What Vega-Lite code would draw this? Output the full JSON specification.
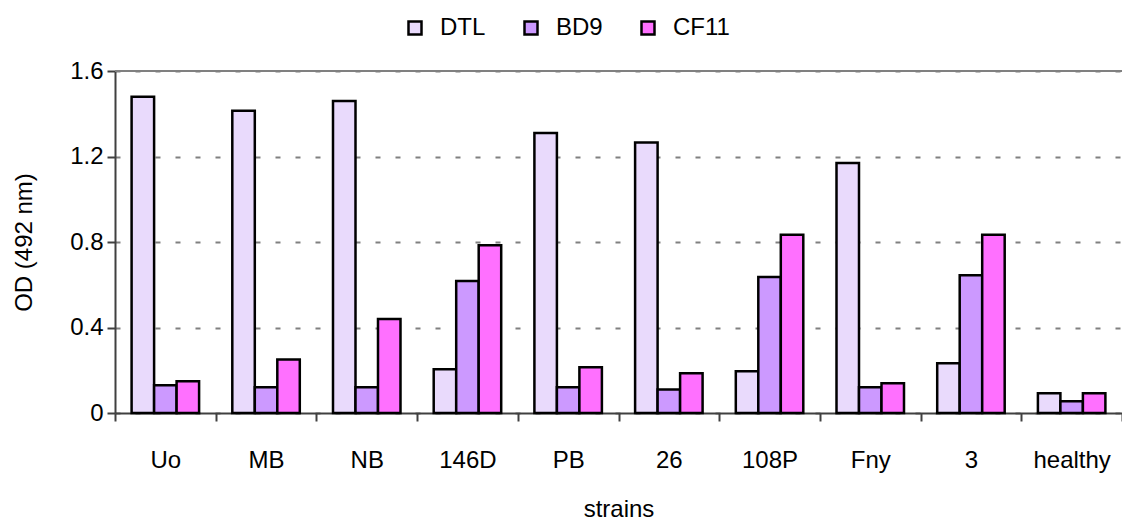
{
  "$schema": "https://vega.github.io/schema/vega-lite/v6.json",
  "width": 1007,
  "height": 342,
  "autosize": {"type": "none"},
  "padding": {"left": 115, "top": 71, "right": 0, "bottom": 110},
  "background": "white",
  "config": {
    "view": {"stroke": null},
    "font": "Liberation Sans",
    "axis": {"labelFont": "Liberation Sans", "titleFont": "Liberation Sans"},
    "legend": {"labelFont": "Liberation Sans"}
  },
  "data": {
    "values": [
      {"strain": "Uo", "series": "DTL", "od": 1.48},
      {"strain": "Uo", "series": "BD9", "od": 0.13},
      {"strain": "Uo", "series": "CF11", "od": 0.148},
      {"strain": "MB", "series": "DTL", "od": 1.414},
      {"strain": "MB", "series": "BD9", "od": 0.12},
      {"strain": "MB", "series": "CF11", "od": 0.25},
      {"strain": "NB", "series": "DTL", "od": 1.46},
      {"strain": "NB", "series": "BD9", "od": 0.12},
      {"strain": "NB", "series": "CF11", "od": 0.44},
      {"strain": "146D", "series": "DTL", "od": 0.205},
      {"strain": "146D", "series": "BD9", "od": 0.618},
      {"strain": "146D", "series": "CF11", "od": 0.785},
      {"strain": "PB", "series": "DTL", "od": 1.31},
      {"strain": "PB", "series": "BD9", "od": 0.12},
      {"strain": "PB", "series": "CF11", "od": 0.214},
      {"strain": "26", "series": "DTL", "od": 1.265},
      {"strain": "26", "series": "BD9", "od": 0.11},
      {"strain": "26", "series": "CF11", "od": 0.186},
      {"strain": "108P", "series": "DTL", "od": 0.195},
      {"strain": "108P", "series": "BD9", "od": 0.636},
      {"strain": "108P", "series": "CF11", "od": 0.834},
      {"strain": "Fny", "series": "DTL", "od": 1.17},
      {"strain": "Fny", "series": "BD9", "od": 0.12},
      {"strain": "Fny", "series": "CF11", "od": 0.139},
      {"strain": "3", "series": "DTL", "od": 0.233},
      {"strain": "3", "series": "BD9", "od": 0.645},
      {"strain": "3", "series": "CF11", "od": 0.834},
      {"strain": "healthy", "series": "DTL", "od": 0.092},
      {"strain": "healthy", "series": "BD9", "od": 0.055},
      {"strain": "healthy", "series": "CF11", "od": 0.092}
    ]
  },
  "layer": [
    {
      "mark": {"type": "rule", "color": "#808080", "strokeWidth": 2},
      "encoding": {"y": {"datum": 1.6, "type": "quantitative"}}
    },
    {
      "mark": {"type": "bar", "stroke": "black", "strokeWidth": 2.5, "opacity": 1},
      "encoding": {
        "x": {
          "field": "strain",
          "type": "nominal",
          "sort": ["Uo", "MB", "NB", "146D", "PB", "26", "108P", "Fny", "3", "healthy"],
          "scale": {"paddingInner": 0, "paddingOuter": 0},
          "axis": {
            "title": "strains",
            "labelAngle": 0,
            "tickBand": "extent",
            "domainColor": "#404040",
            "domainWidth": 2,
            "tickColor": "#404040",
            "tickWidth": 2,
            "tickSize": 8,
            "labelFontSize": 24,
            "labelColor": "black",
            "labelPadding": 27,
            "titleFontSize": 24,
            "titleFontWeight": "normal",
            "titleColor": "black",
            "titlePadding": 25
          }
        },
        "xOffset": {
          "field": "series",
          "type": "nominal",
          "sort": ["DTL", "BD9", "CF11"],
          "scale": {"paddingInner": 0, "paddingOuter": 0.738}
        },
        "y": {
          "field": "od",
          "type": "quantitative",
          "scale": {"domain": [0, 1.6], "nice": false, "zero": true},
          "axis": {
            "title": "OD (492 nm)",
            "values": [0, 0.4, 0.8, 1.2, 1.6],
            "format": ".1~f",
            "grid": true,
            "gridDash": [5, 15],
            "gridColor": "#808080",
            "gridWidth": 2,
            "domainColor": "#404040",
            "domainWidth": 2,
            "tickColor": "#404040",
            "tickWidth": 2,
            "tickSize": 8,
            "labelFontSize": 24,
            "labelColor": "black",
            "labelPadding": 4,
            "titleFontSize": 24,
            "titleFontWeight": "normal",
            "titleColor": "black",
            "titleX": -91,
            "titleAngle": -90,
            "titleBaseline": "middle"
          }
        },
        "color": {
          "field": "series",
          "type": "nominal",
          "sort": ["DTL", "BD9", "CF11"],
          "scale": {"domain": ["DTL", "BD9", "CF11"], "range": ["#E9DAFC", "#CC99FF", "#FF70FF"]},
          "legend": {
            "title": null,
            "orient": "none",
            "direction": "horizontal",
            "legendX": 288,
            "legendY": -55,
            "padding": 0,
            "symbolType": "square",
            "symbolSize": 169,
            "symbolStrokeColor": "black",
            "symbolStrokeWidth": 2.5,
            "symbolOpacity": 1,
            "labelFontSize": 24,
            "labelColor": "black",
            "labelOffset": 13,
            "columnPadding": 33
          }
        }
      }
    }
  ]
}
